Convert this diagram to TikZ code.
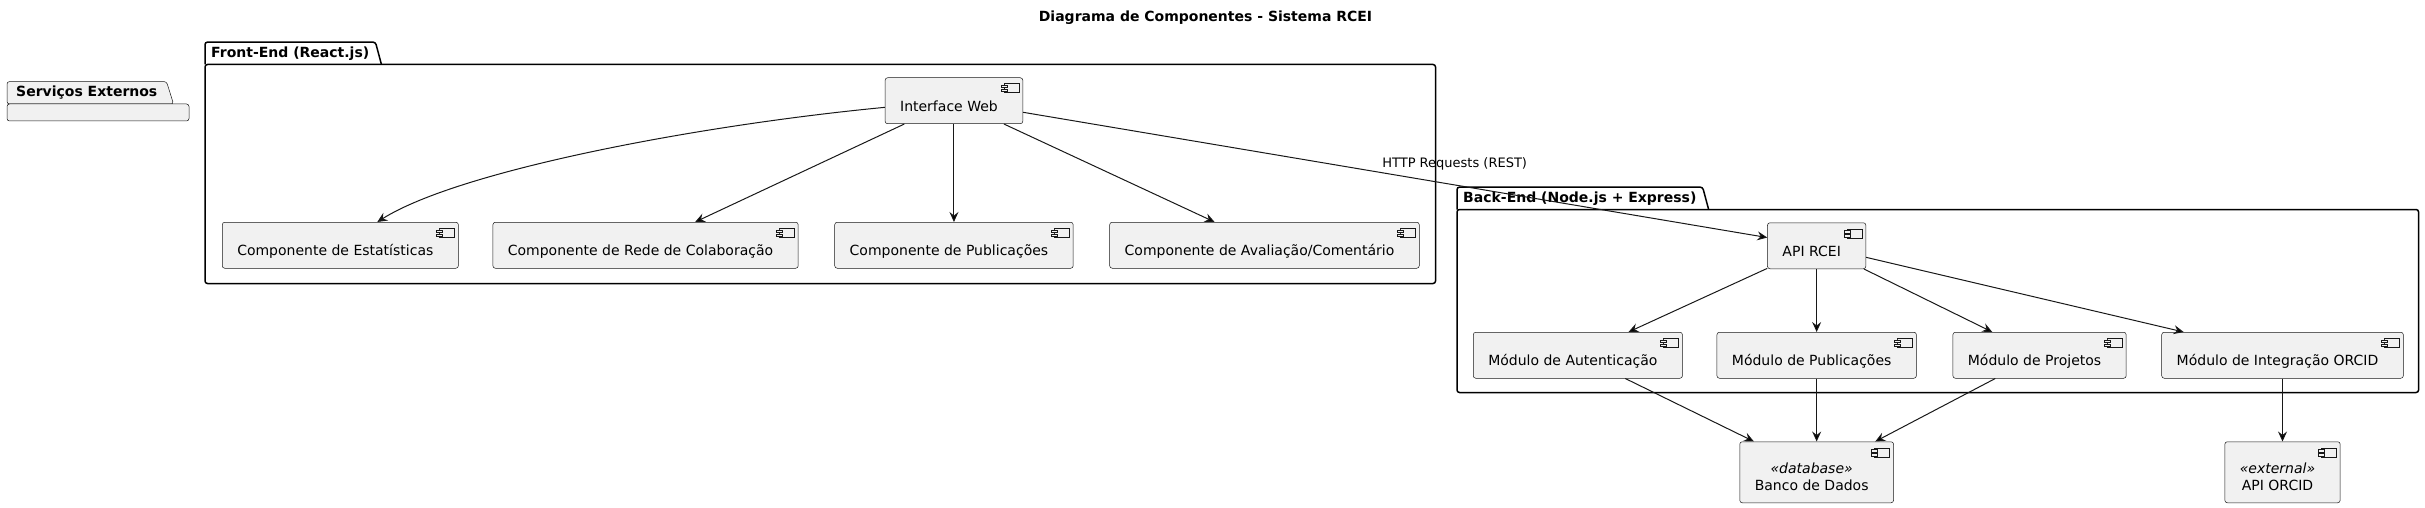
\documentclass[tikz,border=0pt]{standalone}
\usepackage{fontspec}
\setmainfont{DejaVu Sans}
\usetikzlibrary{positioning, calc, arrows.meta, backgrounds}
\usepackage{xcolor}
\definecolor{compfill}{HTML}{F1F1F1}
\definecolor{compline}{HTML}{181818}

\tikzset{
  comp/.style={draw=compline, line width=0.5pt, fill=compfill, rounded corners=2.5pt,
    font=\fontsize{14}{17}\selectfont, inner xsep=15pt, inner ysep=0pt,
    text height=33.5pt, text depth=12.5pt, execute at end node={\hspace*{10pt}},
    path picture={
      \draw[compline, line width=0.5pt, sharp corners]
        ([shift={(-19,6)}]path picture bounding box.north east) rectangle ++(15,9);
      \filldraw[compline, fill=compfill, line width=0.5pt, sharp corners]
        ([shift={(-22,7.5)}]path picture bounding box.north east) rectangle ++(6,2.5)
        ([shift={(-22,11.5)}]path picture bounding box.north east) rectangle ++(6,2.5);
    }},
  stereo/.style={comp, text height=48.5pt, text depth=12.5pt},
  pkg/.style={draw=black, line width=1.5pt, rounded corners=2.5pt},
  extpkg/.style={draw=compline, line width=0.5pt, fill=compfill, rounded corners=2.5pt},
  pkgtitle/.style={font=\fontsize{14}{17}\selectfont\bfseries, inner xsep=6pt, inner ysep=0pt,
    text height=15pt, text depth=7pt},
  conn/.style={draw=compline, line width=1pt},
  lbl/.style={font=\fontsize{13}{15}\selectfont, inner sep=0pt}
}

\begin{document}
\begin{tikzpicture}[x=1pt, y=-1pt, >={Stealth[length=10pt, width=9pt, inset=3.5pt]}]
    \useasboundingbox (0,0) rectangle (2425,508);
    \node[font=\fontsize{14}{17}\selectfont\bfseries] (title) at (1205.5,18) {Diagrama de Componentes - Sistema RCEI};

    % Front-End
    \node[comp, anchor=north west] (est) at (222,222) {Componente de Estatísticas};
    \node[comp] (rede) [right=34pt of est] {Componente de Rede de Colaboração};
    \node[comp] (pub) [right=36pt of rede] {Componente de Publicações};
    \node[comp] (aval) [right=36pt of pub] {Componente de Avaliação/Comentário};
    \node[comp] (iw) [above=98pt of pub] {Interface Web};

    % Back-End
    \node[comp, anchor=north west] (auth) at (1473,332) {Módulo de Autenticação};
    \node[comp] (mpub) [right=34pt of auth] {Módulo de Publicações};
    \node[comp] (mproj) [right=36pt of mpub] {Módulo de Projetos};
    \node[comp] (morcid) [right=35pt of mproj] {Módulo de Integração ORCID};
    \node[comp] (api) [above=63pt of mpub] {API RCEI};

    \node[stereo] (db) [below=63pt of mpub] {\begin{tabular}[b]{@{}c@{}}\textit{«database»}\\Banco de Dados\end{tabular}};
    \node[stereo] (orcid) [below=63pt of morcid] {\begin{tabular}[b]{@{}c@{}}\textit{«external»}\\API ORCID\end{tabular}};

    % packages
    \coordinate (extnw) at (7,104);
    \node[pkgtitle, anchor=south west, inner xsep=9pt] (exttab) at (extnw) {Serviços Externos};
    \begin{pgfonlayer}{background}
      \filldraw[extpkg] (exttab.south west) -- (exttab.north west) -- (exttab.north east)
        -- ($(exttab.south east)+(7,0)$) -- cycle;
      \filldraw[extpkg] (extnw) rectangle ++(182,17);
    \end{pgfonlayer}

    \coordinate (fenw) at ($(est.west |- iw.north)+(-17,-13)$);
    \coordinate (fese) at ($(aval.south east)+(16,15)$);
    \draw[pkg] (fenw) rectangle (fese);
    \node[pkgtitle, anchor=south west] (fetab) at (fenw) {Front-End (React.js)};
    \draw[pkg] (fetab.south west) -- (fetab.north west) -- (fetab.north east) -- ($(fetab.south east)+(6,0)$);

    \coordinate (benw) at ($(auth.west |- api.north)+(-16,-13)$);
    \coordinate (bese) at ($(morcid.south east)+(15,14)$);
    \draw[pkg] (benw) rectangle (bese);
    \node[pkgtitle, anchor=south west] (betab) at (benw) {Back-End (Node.js + Express)};
    \draw[pkg] (betab.south west) -- (betab.north west) -- (betab.north east) -- ($(betab.south east)+(6,0)$);

    % connectors
    \draw[->, conn] (iw) .. controls (700,125) and (460,170) .. (est);
    \path[->, conn]
    (iw) edge (rede)
    (iw) edge (pub)
    (iw) edge (aval)
    (iw) edge node[lbl, pos=0.58, above=14pt] {HTTP Requests (REST)} (api)
    (api) edge (auth)
    (api) edge (mpub)
    (api) edge (mproj)
    (api) edge (morcid)
    (auth) edge (db)
    (mpub) edge (db)
    (mproj) edge (db)
    (morcid) edge (orcid);
\end{tikzpicture}
\end{document}
